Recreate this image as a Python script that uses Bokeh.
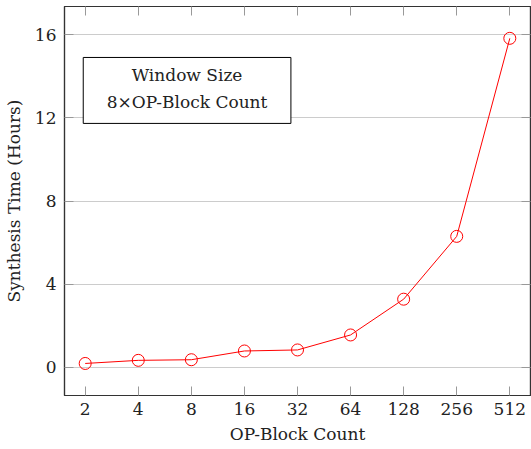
from bokeh.plotting import figure
from bokeh.models import (Range1d, FixedTicker, LogAxis, LinearAxis, BoxAnnotation,
                          Label, CustomJSTickFormatter)
from bokeh.embed import file_html
from bokeh.resources import INLINE

# OP-block counts and measured synthesis time (hours)
block_counts = [2, 4, 8, 16, 32, 64, 128, 256, 512]
synthesis_hours = [0.19, 0.34, 0.37, 0.79, 0.84, 1.56, 3.28, 6.30, 15.82]
y_ticks = [0, 4, 8, 12, 16]

FONT = "DejaVu Serif"
FONT_SIZE = "17px"
TEXT_COLOR = "#222222"
AXIS_COLOR = "#333333"
TICK_COLOR = "#999999"
GRID_COLOR = "#cccccc"

p = figure(width=531, height=449, x_axis_type="log",
           x_range=Range1d(2 ** 0.61, 2 ** 9.39), y_range=Range1d(-1.35, 17.35),
           output_backend="svg", toolbar_location=None,
           min_border_left=62, min_border_right=1, min_border_top=6, min_border_bottom=54)

p.line(block_counts, synthesis_hours, line_color="red", line_width=1)
p.scatter(block_counts, synthesis_hours, marker="circle", size=12,
          fill_color="white", fill_alpha=0, line_color="red", line_width=1)

# grid
p.xgrid.visible = False
p.ygrid.ticker = FixedTicker(ticks=y_ticks)
p.ygrid.grid_line_color = GRID_COLOR
p.ygrid.grid_line_width = 1

p.outline_line_color = AXIS_COLOR
p.outline_line_width = 1.2

blank = CustomJSTickFormatter(code="return '';")

def style_axis(ax, labels=True):
    ax.axis_line_color = AXIS_COLOR
    ax.axis_line_width = 1.2
    ax.major_tick_in = 9
    ax.major_tick_out = 0
    ax.major_tick_line_color = TICK_COLOR
    ax.major_tick_line_width = 1
    ax.minor_tick_line_color = None
    if labels:
        ax.major_label_text_font = FONT
        ax.major_label_text_font_size = FONT_SIZE
        ax.major_label_text_color = TEXT_COLOR
        ax.axis_label_text_font = FONT
        ax.axis_label_text_font_size = FONT_SIZE
        ax.axis_label_text_font_style = "normal"
        ax.axis_label_text_color = TEXT_COLOR
    else:
        ax.formatter = blank
        ax.major_label_standoff = 0

xax = p.xaxis[0]
xax.ticker = FixedTicker(ticks=block_counts)
xax.formatter = CustomJSTickFormatter(code="return String(Math.round(tick));")
xax.axis_label = "OP-Block Count"
style_axis(xax)
xax.major_label_standoff = 7
xax.axis_label_standoff = 6

yax = p.yaxis[0]
yax.ticker = FixedTicker(ticks=y_ticks)
yax.axis_label = "Synthesis Time (Hours)"
style_axis(yax)
yax.major_label_standoff = 8
yax.axis_label_standoff = 8

top = LogAxis(ticker=FixedTicker(ticks=block_counts))
style_axis(top, labels=False)
p.add_layout(top, "above")

right = LinearAxis(ticker=FixedTicker(ticks=y_ticks))
style_axis(right, labels=False)
p.add_layout(right, "right")

# annotation box
p.add_layout(BoxAnnotation(left=2 ** 0.963, right=2 ** 4.876, bottom=11.73, top=14.9,
                           fill_color="white", fill_alpha=1,
                           line_color="black", line_alpha=1, line_width=1))
for txt, yy in [("Window Size", 14.04), ("8\u00d7OP-Block Count", 12.74)]:
    p.add_layout(Label(x=2 ** 2.919, y=yy, text=txt, text_align="center",
                       text_baseline="middle", text_font=FONT,
                       text_font_size=FONT_SIZE, text_color=TEXT_COLOR))

open("out.html", "w").write(file_html(p, INLINE))
